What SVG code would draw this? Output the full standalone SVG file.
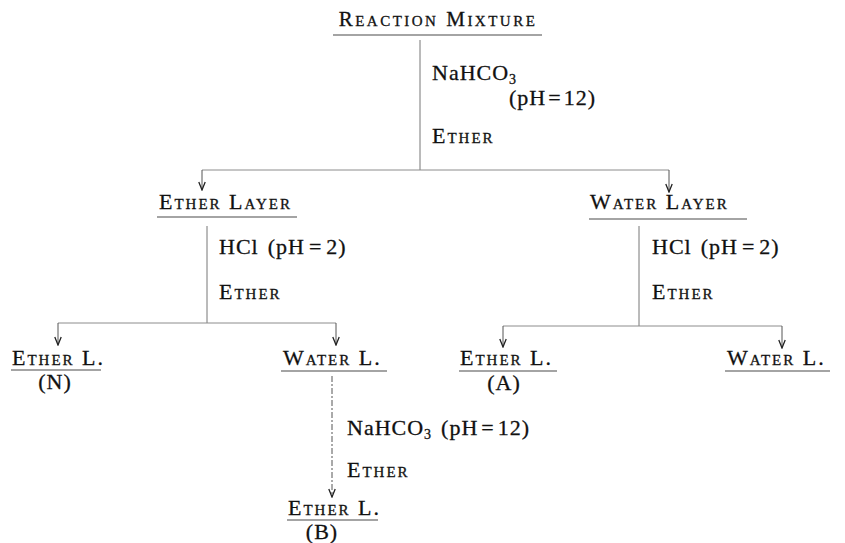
<svg xmlns="http://www.w3.org/2000/svg" width="845" height="543" viewBox="0 0 845 543">
  <style>
    text { font-family: "Liberation Serif", "Times New Roman", serif; fill: #111; stroke: #111; stroke-width: 0.3px; }
    .lbl { font-size: 22px; letter-spacing: 1px; }
    .sc { font-size: 22px; font-variant: small-caps; letter-spacing: 2px; }
    .title { font-size: 21px; font-variant: small-caps; letter-spacing: 2.5px; }
    .mid { text-anchor: middle; }
    .sub { font-size: 14px; }
    .ul { stroke: #4a4a4a; stroke-width: 1.2; fill: none; }
    .conn { stroke: #777; stroke-width: 1; fill: none; }
    .bar { stroke: #8c8c8c; stroke-width: 1; fill: none; }
    .arr { stroke: #555; stroke-width: 1; fill: none; marker-end: url(#head); }
  </style>
  <defs>
    <marker id="head" markerUnits="userSpaceOnUse" markerWidth="10" markerHeight="10" viewBox="0 0 10 10" refX="9" refY="5" orient="auto">
      <path d="M1,1.8 L9,5 L1,8.2" stroke="#222" stroke-width="1.3" fill="none"/>
    </marker>
  </defs>

  <rect width="845" height="543" fill="#ffffff"/>

  <!-- connectors: trunks, branch bars and arrows -->
  <g id="connectors">
    <!-- from reaction mixture -->
    <line class="conn" x1="420" y1="40" x2="420" y2="170"/>
    <line class="bar" x1="202" y1="170" x2="669" y2="170"/>
    <line class="arr" x1="202" y1="170" x2="202" y2="190"/>
    <line class="arr" x1="669" y1="170" x2="669" y2="192"/>
    <!-- from ether layer -->
    <line class="conn" x1="207" y1="226" x2="207" y2="323"/>
    <line class="bar" x1="58" y1="323" x2="336" y2="323"/>
    <line class="arr" x1="58" y1="323" x2="58" y2="345"/>
    <line class="arr" x1="336" y1="323" x2="336" y2="345"/>
    <!-- from water layer -->
    <line class="conn" x1="639" y1="226" x2="639" y2="326"/>
    <line class="bar" x1="503" y1="326" x2="782" y2="326"/>
    <line class="arr" x1="503" y1="326" x2="503" y2="347"/>
    <line class="arr" x1="782" y1="326" x2="782" y2="348"/>
    <!-- from water L. -->
    <line class="arr" x1="332" y1="376" x2="332" y2="497" stroke-dasharray="6 2 2 2"/>
  </g>

  <!-- step reagents -->
  <g id="step-1">
    <text class="lbl" x="432" y="80">NaHCO<tspan class="sub" dy="4">3</tspan></text>
    <text class="lbl" x="509" y="105">(pH<tspan dx="2">=</tspan><tspan dx="2">12)</tspan></text>
    <text class="sc" x="432" y="143">Ether</text>
  </g>
  <g id="step-2">
    <text class="lbl" x="219" y="254">HCl<tspan dx="9">(pH</tspan><tspan dx="4">=</tspan><tspan dx="4">2)</tspan></text>
    <text class="sc" x="219" y="299">Ether</text>
  </g>
  <g id="step-3">
    <text class="lbl" x="652" y="254">HCl<tspan dx="9">(pH</tspan><tspan dx="4">=</tspan><tspan dx="4">2)</tspan></text>
    <text class="sc" x="652" y="299">Ether</text>
  </g>
  <g id="step-4">
    <text class="lbl" x="347" y="435">NaHCO<tspan class="sub" dy="4">3</tspan><tspan dx="9" dy="-4">(pH</tspan><tspan dx="3">=</tspan><tspan dx="3">12)</tspan></text>
    <text class="sc" x="347" y="477">Ether</text>
  </g>

  <!-- layers -->
  <g id="reaction-mixture">
    <text class="title mid" x="438" y="26">Reaction Mixture</text>
    <line class="ul" x1="333" y1="35" x2="542" y2="35"/>
  </g>
  <g id="ether-layer">
    <text class="sc" x="159" y="209">Ether Layer</text>
    <line class="ul" x1="157" y1="217" x2="297" y2="217"/>
  </g>
  <g id="water-layer">
    <text class="sc" x="590" y="209">Water Layer</text>
    <line class="ul" x1="589" y1="219" x2="747" y2="219"/>
  </g>
  <g id="ether-l-n">
    <text class="sc" x="12" y="365">Ether L.</text>
    <line class="ul" x1="11" y1="370" x2="101" y2="370"/>
    <text class="lbl mid" x="55" y="389">(N)</text>
  </g>
  <g id="water-l-1">
    <text class="sc" x="283" y="365">Water L.</text>
    <line class="ul" x1="281" y1="371" x2="387" y2="371"/>
  </g>
  <g id="ether-l-a">
    <text class="sc" x="460" y="365">Ether L.</text>
    <line class="ul" x1="459" y1="371" x2="557" y2="371"/>
    <text class="lbl mid" x="504" y="390">(A)</text>
  </g>
  <g id="water-l-2">
    <text class="sc" x="727" y="365">Water L.</text>
    <line class="ul" x1="725" y1="371" x2="830" y2="371"/>
  </g>
  <g id="ether-l-b">
    <text class="sc" x="288" y="515">Ether L.</text>
    <line class="ul" x1="287" y1="520" x2="378" y2="520"/>
    <text class="lbl mid" x="322" y="539">(B)</text>
  </g>
</svg>
